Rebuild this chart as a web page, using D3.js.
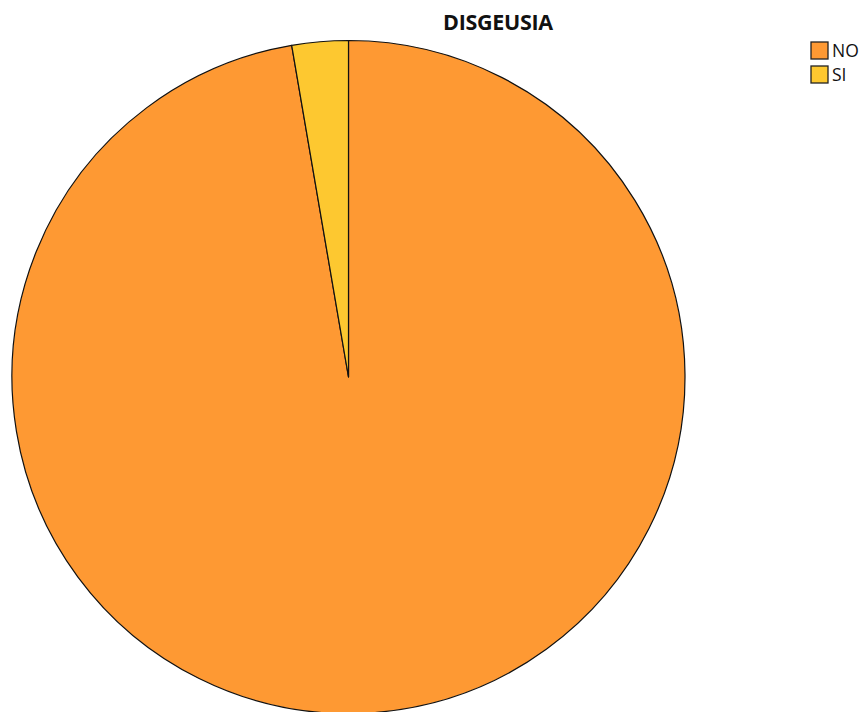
<!DOCTYPE html>
<html>
<head>
<meta charset="utf-8">
<script src="https://cdn.jsdelivr.net/npm/d3@7"></script>
<style>
  html, body { margin: 0; padding: 0; background: #ffffff; }
  svg { display: block; }
</style>
</head>
<body>
<svg id="chart" width="864" height="712"></svg>
<script>
// DISGEUSIA: share of answers per category (percent)
const categories = ["NO", "SI"];
const values = [97.3, 2.7];
const colors = ["#fe9933", "#fdc830"];

const svg = d3.select("#chart");
const cx = 348.5, cy = 377, radius = 336.5;

// Title
svg.append("text")
  .attr("x", 498)
  .attr("y", 30)
  .attr("text-anchor", "middle")
  .attr("font-family", "'Open Sans', sans-serif")
  .attr("font-weight", "bold")
  .attr("font-size", 21.5)
  .attr("letter-spacing", -0.3)
  .attr("fill", "#111")
  .text("DISGEUSIA");

const color = d3.scaleOrdinal().domain(categories).range(colors);

const pie = d3.pie().sort(null).value(d => d.value);
const arc = d3.arc().innerRadius(0).outerRadius(radius);

const data = categories.map((c, i) => ({ category: c, value: values[i] }));

const g = svg.append("g").attr("transform", `translate(${cx},${cy})`);
g.selectAll("path")
  .data(pie(data))
  .join("path")
  .attr("d", arc)
  .attr("fill", d => color(d.data.category))
  .attr("stroke", "#111")
  .attr("stroke-width", 1.2)
  .attr("stroke-linejoin", "round");

// Legend
const legend = svg.append("g").attr("transform", "translate(811,42)");
const item = legend.selectAll("g")
  .data(categories)
  .join("g")
  .attr("transform", (d, i) => `translate(0,${i * 24})`);
item.append("rect")
  .attr("width", 17)
  .attr("height", 17)
  .attr("fill", d => color(d))
  .attr("stroke", "#222")
  .attr("stroke-width", 1.3);
item.append("text")
  .attr("x", 21)
  .attr("y", 15)
  .attr("font-family", "'Open Sans', sans-serif")
  .attr("font-size", 17.5)
  .attr("fill", "#111")
  .text(d => d);
</script>
</body>
</html>
